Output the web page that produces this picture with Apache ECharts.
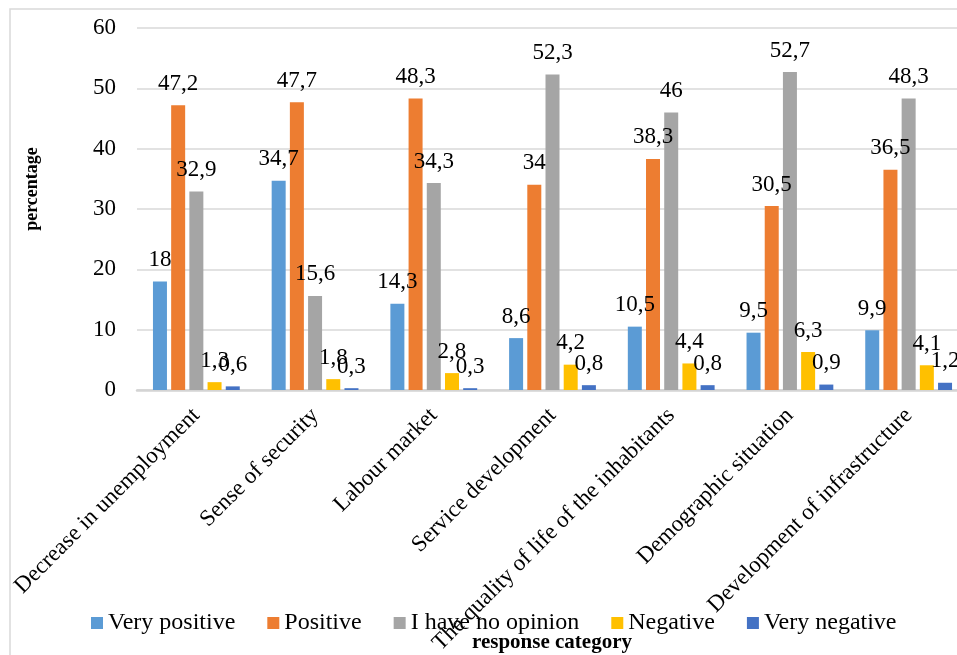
<!DOCTYPE html>
<html>
<head>
<meta charset="utf-8">
<script src="https://cdn.jsdelivr.net/npm/echarts@6/dist/echarts.min.js"></script>
<style>
  html, body { margin: 0; padding: 0; background: #ffffff; }
  #chart { width: 957px; height: 655px; }
</style>
</head>
<body>
<div id="chart"></div>
<script>
// Survey results: perceived impact by area, share of responses (%)
const categories = [
  'Decrease in unemployment',
  'Sense of security',
  'Labour market',
  'Service development',
  'The quality of life of the inhabitants',
  'Demographic situation',
  'Development of infrastructure'
];
const seriesNames = ['Very positive', 'Positive', 'I have no opinion', 'Negative', 'Very negative'];
const veryPositive = [18, 34.7, 14.3, 8.6, 10.5, 9.5, 9.9];
const positive     = [47.2, 47.7, 48.3, 34, 38.3, 30.5, 36.5];
const noOpinion    = [32.9, 15.6, 34.3, 52.3, 46, 52.7, 48.3];
const negative     = [1.3, 1.8, 2.8, 4.2, 4.4, 6.3, 4.1];
const veryNegative = [0.6, 0.3, 0.3, 0.8, 0.8, 0.9, 1.2];
const yTicks = { min: 0, max: 60, interval: 10 };

const colors = ['#5B9BD5', '#ED7D31', '#A5A5A5', '#FFC000', '#4472C4'];
const serif = '"Liberation Serif", "Times New Roman", serif';

const chart = echarts.init(document.getElementById('chart'), null, { renderer: 'canvas' });

function barSeries(name, data, color) {
  return {
    name: name,
    type: 'bar',
    data: data,
    barWidth: 14,
    barGap: '30%',
    itemStyle: { color: color },
    label: {
      show: true,
      position: 'top',
      distance: 10,
      fontFamily: serif,
      fontSize: 23,
      color: '#000000',
      formatter: p => String(p.value).replace('.', ',')
    }
  };
}

chart.setOption({
  animation: false,
  backgroundColor: '#ffffff',
  color: colors,
  grid: {
    left: 137,
    right: -11,
    top: 28,
    bottom: 265,
    containLabel: false,
    outerBoundsMode: 'none'
  },
  legend: {
    left: 86,
    top: 606,
    icon: 'rect',
    itemWidth: 12,
    itemHeight: 12,
    itemGap: 32,
    textStyle: { fontFamily: serif, fontSize: 24, color: '#000000' },
    data: seriesNames
  },
  xAxis: {
    type: 'category',
    data: categories,
    axisLine: { show: true, lineStyle: { color: '#d4d4d4', width: 2.5 } },
    axisTick: { show: false },
    axisLabel: {
      interval: 0,
      rotate: 45,
      margin: 22,
      fontFamily: serif,
      fontSize: 23,
      color: '#000000'
    }
  },
  yAxis: {
    type: 'value',
    min: yTicks.min,
    max: yTicks.max,
    interval: yTicks.interval,
    axisLine: { show: false },
    axisTick: { show: false },
    axisLabel: { margin: 21, fontFamily: serif, fontSize: 23, color: '#000000' },
    splitLine: { lineStyle: { color: '#d9d9d9', width: 1.5 } }
  },
  graphic: [
    {
      type: 'rect',
      shape: { x: 10, y: 9, width: 1000, height: 700 },
      style: { fill: 'none', stroke: '#d9d9d9', lineWidth: 1.5 },
      silent: true,
      z: -10
    },
    {
      type: 'text',
      x: 32,
      y: 189,
      rotation: Math.PI / 2,
      style: {
        text: 'percentage',
        fontFamily: serif,
        fontSize: 18,
        fontWeight: 'bold',
        fill: '#000000',
        align: 'center',
        verticalAlign: 'middle'
      }
    },
    {
      type: 'text',
      x: 552,
      y: 643,
      style: {
        text: 'response category',
        fontFamily: serif,
        fontSize: 21,
        fontWeight: 'bold',
        fill: '#000000',
        align: 'center',
        verticalAlign: 'middle'
      }
    }
  ],
  series: [
    barSeries(seriesNames[0], veryPositive, colors[0]),
    barSeries(seriesNames[1], positive, colors[1]),
    barSeries(seriesNames[2], noOpinion, colors[2]),
    barSeries(seriesNames[3], negative, colors[3]),
    barSeries(seriesNames[4], veryNegative, colors[4])
  ]
});
</script>
</body>
</html>
